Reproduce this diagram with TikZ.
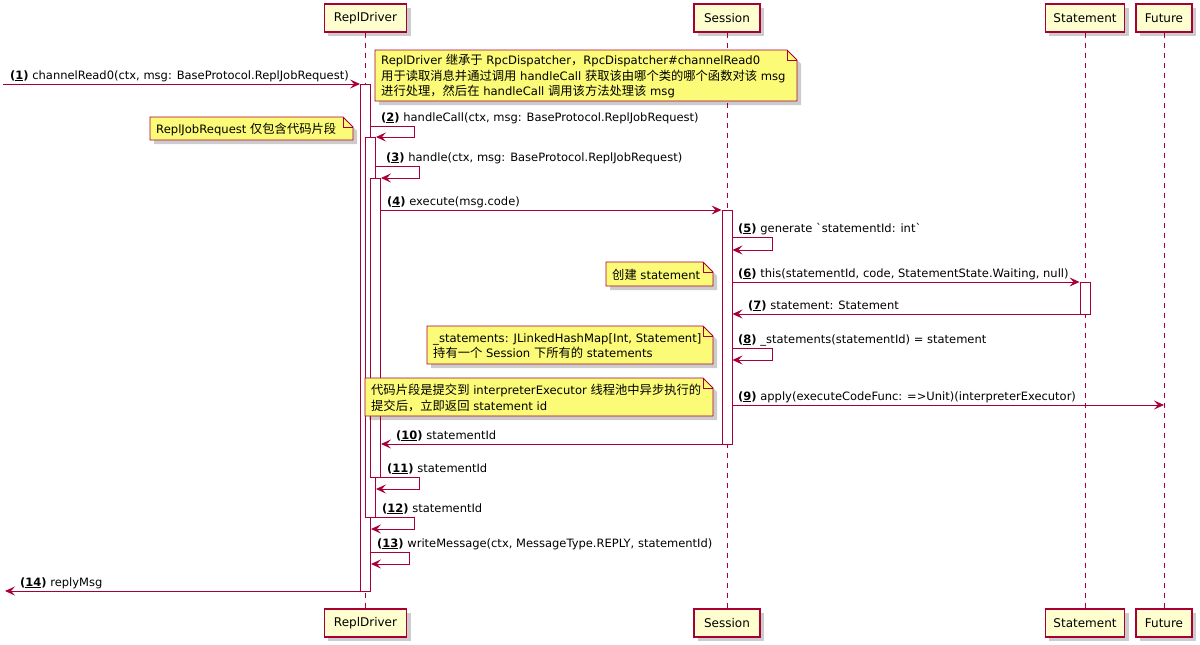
\documentclass[tikz,border=0pt]{standalone}
\usepackage{fontspec}
\setmainfont{DejaVu Sans}
\newfontfamily\cjk{Noto Sans CJK SC}[Scale=1.06]
\usetikzlibrary{arrows.meta}
\definecolor{umlred}{HTML}{A80036}
\definecolor{partfill}{HTML}{FEFECE}
\definecolor{notefill}{HTML}{FBFB77}
\newcommand\zh[1]{{\cjk #1}}
\newcommand\msgno[1]{\textbf{(\underline{#1})}}
\tikzset{
  part/.style={draw=umlred, fill=partfill, line width=1.3pt, minimum height=28pt, inner sep=0pt, font=\fontsize{12}{14}\selectfont},
  shadowbox/.style={fill=black, opacity=0.2},
  lifeline/.style={draw=umlred, line width=0.9pt, dash pattern=on 5pt off 5pt},
  actbar/.style={draw=umlred, fill=white, line width=0.9pt, minimum width=10pt, inner sep=0pt},
  msg/.style={draw=umlred, line width=0.9pt, -{Stealth[length=10pt,width=9pt,inset=4pt]}},
  lbl/.style={anchor=base west, inner sep=0pt, font=\fontsize{11.5}{13}\selectfont},
  notebox/.style={draw=umlred, fill=notefill, line width=0.9pt},
  notetext/.style={anchor=west, inner sep=0pt, align=left, font=\fontsize{11.6}{15.5}\selectfont}
}
\newcommand\umlnote[6]{%
  \fill[shadowbox] ({#2+4},{#3+4}) -- ({#4-6},{#3+4}) -- ({#4+4},{#3+14}) -- ({#4+4},{#5+4}) -- ({#2+4},{#5+4}) -- cycle;
  \filldraw[notebox] (#2,#3) -- ({#4-10},#3) -- (#4,{#3+10}) -- (#4,#5) -- (#2,#5) -- cycle;
  \draw[notebox, fill=none] ({#4-10},#3) -- ({#4-10},{#3+10}) -- (#4,{#3+10});
  \node[notetext] (#1) at ({#2+6},{(#3+#5)/2+1}) {#6};
}
\newcommand\partshadow[1]{%
  \fill[shadowbox] ([shift={(4pt,-4pt)}]#1.south west) rectangle ([shift={(4pt,-4pt)}]#1.north east);
}
\begin{document}
\begin{tikzpicture}[x=1pt,y=-1pt]
\useasboundingbox (0,0) rectangle (1200,645);
\fill[white] (0,0) rectangle (1200,645);

% participant shadows
\path (365.5,18) node[minimum width=82pt, minimum height=28pt, inner sep=0pt] (rdTs) {}
      (727,18) node[minimum width=66pt, minimum height=28pt, inner sep=0pt] (ssTs) {}
      (1085,18) node[minimum width=79pt, minimum height=28pt, inner sep=0pt] (stTs) {}
      (1164,18) node[minimum width=56pt, minimum height=28pt, inner sep=0pt] (ftTs) {}
      (365.5,623) node[minimum width=82pt, minimum height=28pt, inner sep=0pt] (rdBs) {}
      (727,623) node[minimum width=66pt, minimum height=28pt, inner sep=0pt] (ssBs) {}
      (1085,623) node[minimum width=79pt, minimum height=28pt, inner sep=0pt] (stBs) {}
      (1164,623) node[minimum width=56pt, minimum height=28pt, inner sep=0pt] (ftBs) {};
\partshadow{rdTs}\partshadow{ssTs}\partshadow{stTs}\partshadow{ftTs}
\partshadow{rdBs}\partshadow{ssBs}\partshadow{stBs}\partshadow{ftBs}

% participants (top and bottom)
\path (365.5,18) node[part, minimum width=82pt] (rdT) {ReplDriver}
      (727,18) node[part, minimum width=66pt] (ssT) {Session}
      (1085,18) node[part, minimum width=79pt] (stT) {Statement}
      (1164,18) node[part, minimum width=56pt] (ftT) {Future}
      (365.5,623) node[part, minimum width=82pt] (rdB) {ReplDriver}
      (727,623) node[part, minimum width=66pt] (ssB) {Session}
      (1085,623) node[part, minimum width=79pt] (stB) {Statement}
      (1164,623) node[part, minimum width=56pt] (ftB) {Future};

% lifelines
\draw[lifeline] (rdT.south) -- (rdB.north);
\draw[lifeline] (ssT.south) -- (ssB.north);
\draw[lifeline] (stT.south) -- (stB.north);
\draw[lifeline] (ftT.south) -- (ftB.north);

% activation bars
\node[actbar, minimum height=507pt, anchor=north] (b1) at (365.5,84) {};
\node[actbar, minimum height=380pt, anchor=north] (b2) at (370.5,137) {};
\node[actbar, minimum height=299pt, anchor=north] (b3) at (375.5,178) {};
\node[actbar, minimum height=234pt, anchor=north] (sb) at (727,210) {};
\node[actbar, minimum height=32pt, anchor=north] (tb) at (1085,282) {};

% messages
\coordinate (inL) at (3,84);
\coordinate (outL) at (5,591);
\draw[msg] (inL) -- (b1.west |- 0,84);
\node[lbl] (l1) at (10,79) {\msgno{1} channelRead0(ctx, msg: BaseProtocol.ReplJobRequest)};

\draw[msg] (b1.east |- 0,126) -- (414,126) -- (414,137) -- (b2.east |- 0,137);
\node[lbl] (l2) at (381,121) {\msgno{2} handleCall(ctx, msg: BaseProtocol.ReplJobRequest)};

\draw[msg] (b2.east |- 0,166) -- (419,166) -- (419,178) -- (b3.east |- 0,178);
\node[lbl] (l3) at (386,161) {\msgno{3} handle(ctx, msg: BaseProtocol.ReplJobRequest)};

\draw[msg] (b3.east |- 0,210) -- (sb.west |- 0,210);
\node[lbl] (l4) at (387,205) {\msgno{4} execute(msg.code)};

\draw[msg] (sb.east |- 0,237) -- (772,237) -- (772,250) -- (sb.east |- 0,250);
\node[lbl] (l5) at (738,232) {\msgno{5} generate \textasciigrave statementId: int\textasciigrave};

\draw[msg] (sb.east |- 0,282) -- (tb.west |- 0,282);
\node[lbl] (l6) at (738,277) {\msgno{6} this(statementId, code, StatementState.Waiting, null)};

\draw[msg] (tb.west |- 0,314) -- (sb.east |- 0,314);
\node[lbl] (l7) at (748,309) {\msgno{7} statement: Statement};

\draw[msg] (sb.east |- 0,348) -- (772,348) -- (772,360) -- (sb.east |- 0,360);
\node[lbl] (l8) at (738,343) {\msgno{8} \_statements(statementId) = statement};

\draw[msg] (sb.east |- 0,405) -- (ftT.south |- 0,405);
\node[lbl] (l9) at (738,400) {\msgno{9} apply(executeCodeFunc: =>Unit)(interpreterExecutor)};

\draw[msg] (sb.west |- 0,444) -- (b3.east |- 0,444);
\node[lbl] (l10) at (396,439) {\msgno{10} statementId};

\draw[msg] (b3.east |- 0,477) -- (419,477) -- (419,489) -- (b2.east |- 0,489);
\node[lbl] (l11) at (387,472) {\msgno{11} statementId};

\draw[msg] (b2.east |- 0,517) -- (414,517) -- (414,529) -- (b1.east |- 0,529);
\node[lbl] (l12) at (382,512) {\msgno{12} statementId};

\draw[msg] (b1.east |- 0,552) -- (409,552) -- (409,564) -- (b1.east |- 0,564);
\node[lbl] (l13) at (377,547) {\msgno{13} writeMessage(ctx, MessageType.REPLY, statementId)};

\draw[msg] (b1.west |- 0,591) -- (outL);
\node[lbl] (l14) at (20,586) {\msgno{14} replyMsg};

% notes
\umlnote{n1}{375}{50}{797}{101}{ReplDriver \zh{继承于} RpcDispatcher\zh{，}RpcDispatcher\#channelRead0\\\zh{用于读取消息并通过调用} handleCall \zh{获取该由哪个类的哪个函数对该} msg\\\zh{进行处理，然后在} handleCall \zh{调用该方法处理该} msg}
\umlnote{n2}{150}{117}{353}{140}{ReplJobRequest \zh{仅包含代码片段}}
\umlnote{n3}{606}{262}{713}{286}{\zh{创建} statement}
\umlnote{n4}{427}{326}{713}{364}{\_statements: JLinkedHashMap[Int, Statement]\\\zh{持有一个} Session \zh{下所有的} statements}
\umlnote{n5}{365}{378}{713}{416}{\zh{代码片段是提交到} interpreterExecutor \zh{线程池中异步执行的}\\\zh{提交后，立即返回} statement id}
\end{tikzpicture}
\end{document}
